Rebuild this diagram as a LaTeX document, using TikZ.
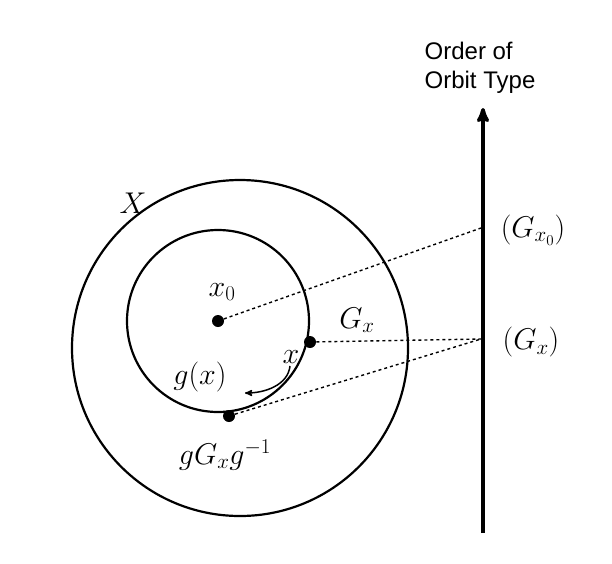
\RequirePackage{fix-cm}
\documentclass[tikz,border=0pt]{standalone}
\usepackage{amsmath}
\usepackage{fontspec}
\newfontfamily\labelfont{Liberation Sans}
\usepackage{tikz}
\usetikzlibrary{arrows}
\DeclareMathSizes{30}{30}{21}{15}
\begin{document}
\begin{tikzpicture}[x=1pt,y=-1pt,semithick,>=stealth',
    dot/.style={circle,fill,inner sep=0pt,minimum size=12pt},
    lbl/.style={font=\fontsize{30}{36}\selectfont}]
  \useasboundingbox (0,0) rectangle (612,563);

  \draw[line width=2.2pt] (240,348) circle (168);
  \draw[line width=2.2pt] (218,321) circle (91);

  \node[dot] (x0) at (218,321) {};
  \node[dot] (x) at (310,342) {};
  \node[dot] (gx) at (229,416) {};

  \coordinate (bot) at (483,533);
  \coordinate (top) at (483,108);
  \draw[->,line width=3.5pt] (bot) -- (top);
  \coordinate (a0) at (481,228);
  \coordinate (a1) at (481,339);

  \draw[dashed,line width=1.4pt] (x0) -- (a0);
  \draw[dashed,line width=1.4pt] (x) -- (a1);
  \draw[dashed,line width=1.4pt] (gx) -- (a1);

  \node[font=\labelfont\fontsize{24}{29}\selectfont,align=left] (ord) at (480,68) {Order of\\Orbit Type};
  \node[lbl] (gx0) at (533,230) {$(G_{x_0})$};
  \node[lbl] (gxa) at (531,342) {$(G_x)$};
  \node[lbl] (X) at (133,203) {$X$};
  \node[lbl] (lx0) at (222,292) {$x_0$};
  \node[lbl] (lx) at (291,357) {$x$};
  \node[lbl] (Gx) at (357,320) {$G_x$};
  \node[lbl] (lg) at (200,377) {$g(x)$};
  \node[lbl] (conj) at (225,455) {$gG_xg^{-1}$};

  \coordinate (c1) at (290,366);
  \coordinate (c2) at (245,393);
  \draw[->,line width=1.5pt] (c1) .. controls (288,385) and (265,393) .. (c2);
\end{tikzpicture}
\end{document}
